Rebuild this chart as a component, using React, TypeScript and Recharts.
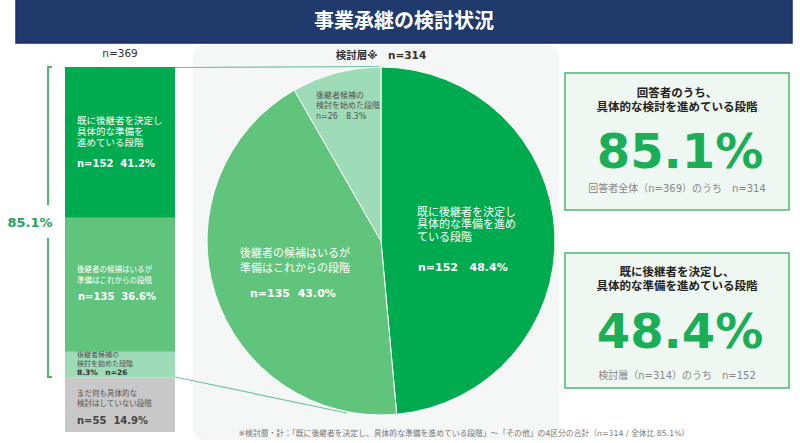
import React from 'react';
import { BarChart, Bar, XAxis, YAxis, PieChart, Pie, Cell, LabelList } from 'recharts';

const FONT = '"DejaVu Sans", "Noto Sans CJK JP", sans-serif';
const TXT: React.CSSProperties = { fontFamily: FONT, whiteSpace: 'pre' };

// ---- data ----
const titleText = '事業承継の検討状況';
const barTotalLabel = 'n=369';
const pieTotalLabel = '検討層※　n=314';

// stacked bar (bottom -> top)
const barKeys = ['none', 'started', 'candidate', 'decided'];
const barCounts = [55, 26, 135, 152];
const barShares = ['14.9%', '8.3%', '36.6%', '41.2%'];
const barColors = ['#c8c8c8', '#9edbb7', '#60c47c', '#00aa4f'];
const barLabelLines = [
  ['まだ何も具体的な', '検討はしていない段階'],
  ['後継者候補の', '検討を始めた段階'],
  ['後継者の候補はいるが', '準備はこれからの段階'],
  ['既に後継者を決定し', '具体的な準備を', '進めている段階'],
];
const barDomainMax = 368;

// pie (clockwise from top)
const pieNames = ['既に後継者を決定し具体的な準備を進めている段階', '後継者の候補はいるが準備はこれからの段階', '後継者候補の検討を始めた段階'];
const pieCounts = [152, 135, 26];
const pieShares = ['48.4%', '43.0%', '8.3%'];
const pieColors = ['#00aa4f', '#60c47c', '#9edbb7'];
const pieLabelLines = [
  ['既に後継者を決定し', '具体的な準備を進め', 'ている段階'],
  ['後継者の候補はいるが', '準備はこれからの段階'],
  ['後継者候補の', '検討を始めた段階'],
];

const bracketLabel = '85.1%';
const box1Title = ['回答者のうち、', '具体的な検討を進めている段階'];
const box1Value = '85.1%';
const box1Note = '回答者全体（n=369）のうち　n=314';
const box2Title = ['既に後継者を決定し、', '具体的な準備を進めている段階'];
const box2Value = '48.4%';
const box2Note = '検討層（n=314）のうち　n=152';
const footnote = '※検討層・計：「既に後継者を決定し、具体的な準備を進めている段階」～「その他」の4区分の合計（n=314 / 全体比 85.1%）';

const barRow: Record<string, any> = { name: '全体' };
barKeys.forEach((k, i) => { barRow[k] = barCounts[i]; });
const barData = [barRow];
const pieData = pieNames.map((n, i) => ({ name: n, value: pieCounts[i] }));

// ---- bar labels ----
const makeBarLabel = (segIndex: number) => (props: any) => {
  const x = Number(props.x);
  const y = Number(props.y);
  const tx = x + 12;
  const lines = barLabelLines[segIndex];
  const count = barCounts[segIndex];
  const share = barShares[segIndex];
  if (segIndex === 3) {
    return (
      <g style={TXT}>
        {lines.map((l, i) => (
          <text key={i} x={tx} y={y + 53 + i * 11} fontSize={9.5} fill="#fff" dominantBaseline="central" style={TXT}>{l}</text>
        ))}
        <text x={tx} y={y + 96} fontSize={10} fontWeight="bold" fill="#fff" dominantBaseline="central" style={TXT}>{`n=152  ${share}`.replace('152', String(count))}</text>
      </g>
    );
  }
  if (segIndex === 2) {
    return (
      <g style={TXT}>
        {lines.map((l, i) => (
          <text key={i} x={tx} y={y + 52 + i * 10.5} fontSize={7.5} fill="#fff" dominantBaseline="central" style={TXT}>{l}</text>
        ))}
        <text x={tx + 1} y={y + 79} fontSize={10} fontWeight="bold" fill="#fff" dominantBaseline="central" style={TXT}>{`n=${count}  ${share}`}</text>
      </g>
    );
  }
  if (segIndex === 1) {
    return (
      <g style={TXT}>
        {lines.map((l, i) => (
          <text key={i} x={tx} y={y + 3 + i * 9.3} fontSize={7} fill="#555" dominantBaseline="central" style={TXT}>{l}</text>
        ))}
        <text x={tx} y={y + 21} fontSize={7.5} fontWeight="bold" fill="#333" dominantBaseline="central" style={TXT}>{`${share}　n=${count}`}</text>
      </g>
    );
  }
  return (
    <g style={TXT}>
      {lines.map((l, i) => (
        <text key={i} x={tx} y={y + 16 + i * 10} fontSize={7.5} fill="#555" dominantBaseline="central" style={TXT}>{l}</text>
      ))}
      <text x={tx} y={y + 43} fontSize={10} fontWeight="bold" fill="#444" dominantBaseline="central" style={TXT}>{`n=${count}  ${share}`}</text>
    </g>
  );
};

// ---- pie labels ----
const renderPieLabel = (props: any) => {
  const cx = Number(props.cx ?? 180);
  const cy = Number(props.cy ?? 180);
  const index = props.index;
  const lines = pieLabelLines[index];
  const count = pieCounts[index];
  const share = pieShares[index];
  if (index === 0) {
    return (
      <g style={TXT}>
        {lines.map((l, i) => (
          <text key={i} x={cx + 36} y={cy - 29 + i * 12.8} fontSize={11} fill="#fff" dominantBaseline="central" style={TXT}>{l}</text>
        ))}
        <text x={cx + 37} y={cy + 26} fontSize={11} fontWeight="bold" fill="#fff" dominantBaseline="central" style={TXT}>{`n=${count}   ${share}`}</text>
      </g>
    );
  }
  if (index === 1) {
    return (
      <g style={TXT}>
        {lines.map((l, i) => (
          <text key={i} x={cx - 141} y={cy + 12 + i * 15} fontSize={11} fill="#fff" dominantBaseline="central" style={TXT}>{l}</text>
        ))}
        <text x={cx - 131} y={cy + 52} fontSize={11} fontWeight="bold" fill="#fff" dominantBaseline="central" style={TXT}>{`n=${count}  ${share}`}</text>
      </g>
    );
  }
  return (
    <g style={TXT}>
      {lines.map((l, i) => (
        <text key={i} x={cx - 65} y={cy - 146 + i * 10.5} fontSize={8} fill="#555" dominantBaseline="central" style={TXT}>{l}</text>
      ))}
      <text x={cx - 65} y={cy - 125} fontSize={8} fill="#555" dominantBaseline="central" style={TXT}>{`n=${count}　${share}`}</text>
    </g>
  );
};

const GREEN = '#1aae57';

export default function App() {
  return (
    <div style={{ position: 'absolute', left: 0, top: 0, width: 800, height: 443, background: '#fff', fontFamily: FONT, overflow: 'hidden' }}>
      {/* background layer */}
      <svg width={800} height={443} style={{ position: 'absolute', left: 0, top: 0 }}>
        <rect x={16} y={-2} width={776} height={45} fill="#203a6c" stroke="#1a2870" strokeWidth={1.5} />
        <text x={404} y={21} textAnchor="middle" dominantBaseline="central" fontSize={20} fontWeight="bold" fill="#fff" style={TXT}>{titleText}</text>
        <rect x={193} y={44} width={366} height={396} rx={12} fill="#f5f6f6" />
        <text x={120} y={53} textAnchor="middle" dominantBaseline="central" fontSize={10.5} fill="#333" style={TXT}>{barTotalLabel}</text>
        <text x={381} y={55} textAnchor="middle" dominantBaseline="central" fontSize={10.5} fontWeight="bold" fill="#333" style={TXT}>{pieTotalLabel}</text>
        {/* connectors */}
        <line x1={175} y1={67.5} x2={381} y2={66.5} stroke="#6cc4a2" strokeWidth={1.2} />
        <line x1={175} y1={377} x2={347} y2={413} stroke="#6cc4a2" strokeWidth={1.2} />
        {/* bracket */}
        <path d="M52,67 L48,67 L48,205 M48,238 L48,377 L52,377" fill="none" stroke="#4cb86c" strokeWidth={2} />
        <text x={30} y={222} textAnchor="middle" dominantBaseline="central" fontSize={13} fontWeight="bold" fill="#21a35a" style={TXT}>{bracketLabel}</text>
        <text x={464} y={433} textAnchor="middle" dominantBaseline="central" fontSize={7.8} fill="#777" style={TXT}>{footnote}</text>
      </svg>

      {/* stacked bar */}
      <div style={{ position: 'absolute', left: 65, top: 67 }}>
        <BarChart width={110} height={365} data={barData} margin={{ top: 0, right: 0, bottom: 0, left: 0 }} barCategoryGap={0}>
          <XAxis dataKey="name" hide />
          <YAxis type="number" domain={[0, barDomainMax]} hide />
          {barKeys.map((k, i) => (
            <Bar key={k} dataKey={k} stackId="a" fill={barColors[i]} isAnimationActive={false}>
              <LabelList dataKey={k} content={makeBarLabel(i)} />
            </Bar>
          ))}
        </BarChart>
      </div>

      {/* pie */}
      <div style={{ position: 'absolute', left: 201, top: 61 }}>
        <PieChart width={360} height={360} margin={{ top: 0, right: 0, bottom: 0, left: 0 }}>
          <Pie
            data={pieData}
            dataKey="value"
            cx={180}
            cy={180}
            outerRadius={174}
            startAngle={90}
            endAngle={-270}
            stroke="#ffffff"
            strokeWidth={1}
            label={renderPieLabel}
            labelLine={false}
            isAnimationActive={false}
          >
            {pieData.map((d, i) => (
              <Cell key={d.name} fill={pieColors[i]} />
            ))}
          </Pie>
        </PieChart>
      </div>

      {/* right boxes */}
      <svg width={800} height={443} style={{ position: 'absolute', left: 0, top: 0, pointerEvents: 'none' }}>
        <g style={TXT}>
          <rect x={565} y={73} width={224} height={137} fill="#eef7f1" stroke="#4cb86c" strokeWidth={1.5} />
          {box1Title.map((t, i) => (
            <text key={i} x={677} y={93 + i * 14} textAnchor="middle" dominantBaseline="central" fontSize={11.5} fontWeight="bold" fill="#222" style={TXT}>{t}</text>
          ))}
          <text x={680} y={168} textAnchor="middle" fontSize={48} fontWeight="bold" fill={GREEN} style={TXT}>{box1Value}</text>
          <text x={677} y={188} textAnchor="middle" dominantBaseline="central" fontSize={10} fill="#888" style={TXT}>{box1Note}</text>

          <rect x={565} y={253} width={224} height={135} fill="#eef7f1" stroke="#4cb86c" strokeWidth={1.5} />
          {box2Title.map((t, i) => (
            <text key={i} x={677} y={272 + i * 13.5} textAnchor="middle" dominantBaseline="central" fontSize={11.5} fontWeight="bold" fill="#222" style={TXT}>{t}</text>
          ))}
          <text x={680} y={348} textAnchor="middle" fontSize={48} fontWeight="bold" fill={GREEN} style={TXT}>{box2Value}</text>
          <text x={677} y={375} textAnchor="middle" dominantBaseline="central" fontSize={10} fill="#888" style={TXT}>{box2Note}</text>
        </g>
      </svg>
    </div>
  );
}
